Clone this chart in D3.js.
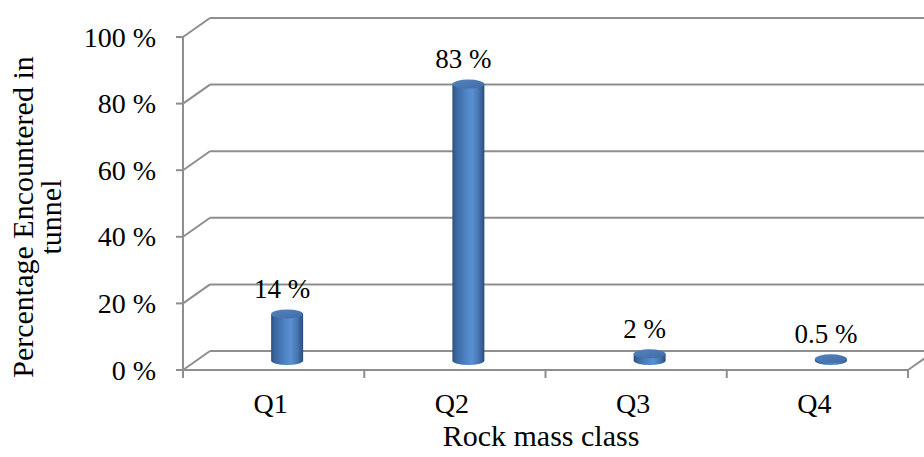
<!DOCTYPE html>
<html>
<head>
<meta charset="utf-8">
<script src="https://cdn.jsdelivr.net/npm/d3@7"></script>
<style>
  html, body { margin: 0; padding: 0; background: #ffffff; }
  svg { display: block; }
  text { font-family: "Times New Roman", "Liberation Serif", serif; fill: #000; }
</style>
</head>
<body>
<svg id="chart" width="924" height="457"></svg>
<script>
// Share of tunnel length per rock mass class
const categories = ["Q1", "Q2", "Q3", "Q4"];
const values = [14, 83, 2, 0.5];
const valueLabels = ["14 %", "83 %", "2 %", "0.5 %"];
const yTicks = [0, 20, 40, 60, 80, 100];
const yTitleLines = ["Percentage Encountered in", "tunnel"];
const xTitle = "Rock mass class";

const svg = d3.select("#chart");

// front plane of the plot box and the depth offset of the back wall
const plotLeft = 183, plotRight = 908, plotBase = 370, plotTop = 37;
const depth = { dx: 27, dy: -19 };

const x = d3.scaleBand().domain(categories).range([plotLeft, plotRight]).padding(0);
const h = d3.scaleLinear().domain([0, 100]).range([0, plotBase - plotTop]);

// project a (screen x, value, depth 0..1) point
const px = (sx, z) => sx + z * depth.dx;
const py = (v, z) => plotBase - h(v) + z * depth.dy;

const wallColor = "#8e8e8e";

// gridlines on the back wall plus the diagonals on the side wall
const grid = svg.append("g");
yTicks.forEach(t => {
  grid.append("line")
    .attr("x1", px(plotLeft, 1)).attr("y1", py(t, 1))
    .attr("x2", px(plotRight, 1)).attr("y2", py(t, 1))
    .attr("stroke", wallColor).attr("stroke-width", 2);
  grid.append("line")
    .attr("x1", px(plotLeft, 0)).attr("y1", py(t, 0))
    .attr("x2", px(plotLeft, 1)).attr("y2", py(t, 1))
    .attr("stroke", wallColor).attr("stroke-width", 2);
});

// floor: front edge and right diagonal
grid.append("line")
  .attr("x1", plotLeft).attr("y1", plotBase).attr("x2", plotRight).attr("y2", plotBase)
  .attr("stroke", wallColor).attr("stroke-width", 2);
grid.append("line")
  .attr("x1", px(plotRight, 0)).attr("y1", py(0, 0))
  .attr("x2", px(plotRight, 1)).attr("y2", py(0, 1))
  .attr("stroke", wallColor).attr("stroke-width", 2);

// value axis on the front-left edge
const yAxis = svg.append("g");
yAxis.append("line")
  .attr("x1", plotLeft).attr("y1", py(100, 0)).attr("x2", plotLeft).attr("y2", plotBase + 8)
  .attr("stroke", wallColor).attr("stroke-width", 2);
yTicks.forEach(t => {
  yAxis.append("line")
    .attr("x1", plotLeft - 7).attr("y1", py(t, 0)).attr("x2", plotLeft).attr("y2", py(t, 0))
    .attr("stroke", wallColor).attr("stroke-width", 2);
  yAxis.append("text")
    .attr("x", 156).attr("y", py(t, 0))
    .attr("dy", "0.34em")
    .attr("text-anchor", "end")
    .attr("font-size", 28)
    .text(t + " %");
});

// category axis ticks and labels
const xAxis = svg.append("g");
x.domain().map(c => x(c)).concat([plotRight]).forEach(sx => {
  xAxis.append("line")
    .attr("x1", sx).attr("y1", plotBase).attr("x2", sx).attr("y2", plotBase + 8)
    .attr("stroke", wallColor).attr("stroke-width", 2);
});
categories.forEach(c => {
  xAxis.append("text")
    .attr("x", x(c) + x.bandwidth() / 2 - 3)
    .attr("y", 413)
    .attr("text-anchor", "middle")
    .attr("font-size", 28)
    .text(c);
});

// axis titles
svg.append("text")
  .attr("x", 541).attr("y", 446)
  .attr("text-anchor", "middle")
  .attr("font-size", 30)
  .text(xTitle);

const yTitle = svg.append("text")
  .attr("transform", "translate(33,217) rotate(-90)")
  .attr("text-anchor", "middle")
  .attr("font-size", 30);
yTitleLines.forEach((line, i) => {
  yTitle.append("tspan")
    .attr("x", 0).attr("dy", i === 0 ? 0 : 28)
    .text(line);
});

// cylinder shading
const defs = svg.append("defs");
const bodyGrad = defs.append("linearGradient").attr("id", "cylBody")
  .attr("x1", "0%").attr("x2", "100%").attr("y1", "0%").attr("y2", "0%");
[["0%", "#2c5184"], ["12%", "#3a66a0"], ["45%", "#5085c6"], ["62%", "#5a8fd2"],
 ["82%", "#4675b2"], ["100%", "#2a4d7d"]].forEach(([o, c]) =>
  bodyGrad.append("stop").attr("offset", o).attr("stop-color", c));
const topGrad = defs.append("linearGradient").attr("id", "cylTop")
  .attr("x1", "0%").attr("x2", "100%").attr("y1", "0%").attr("y2", "100%");
[["0%", "#5583bd"], ["100%", "#3f6ca6"]].forEach(([o, c]) =>
  topGrad.append("stop").attr("offset", o).attr("stop-color", c));

const rx = 16, ry = 4.5;
const bars = svg.append("g");
categories.forEach((c, i) => {
  const cx = px(x(c) + x.bandwidth() / 2, 0.5);
  const yBase = py(0, 0.5);
  const yTop = py(values[i], 0.5);
  const g = bars.append("g");
  // body with rounded bottom
  g.append("path")
    .attr("d", `M${cx - rx},${yTop} L${cx - rx},${yBase} A${rx},${ry} 0 0 0 ${cx + rx},${yBase} L${cx + rx},${yTop} Z`)
    .attr("fill", "url(#cylBody)");
  g.append("ellipse")
    .attr("cx", cx).attr("cy", yTop).attr("rx", rx).attr("ry", ry)
    .attr("fill", "url(#cylTop)");
  // value label above the cylinder
  svg.append("text")
    .attr("x", cx - 5).attr("y", yTop - 16)
    .attr("text-anchor", "middle")
    .attr("font-size", 27)
    .text(valueLabels[i]);
});
</script>
</body>
</html>
